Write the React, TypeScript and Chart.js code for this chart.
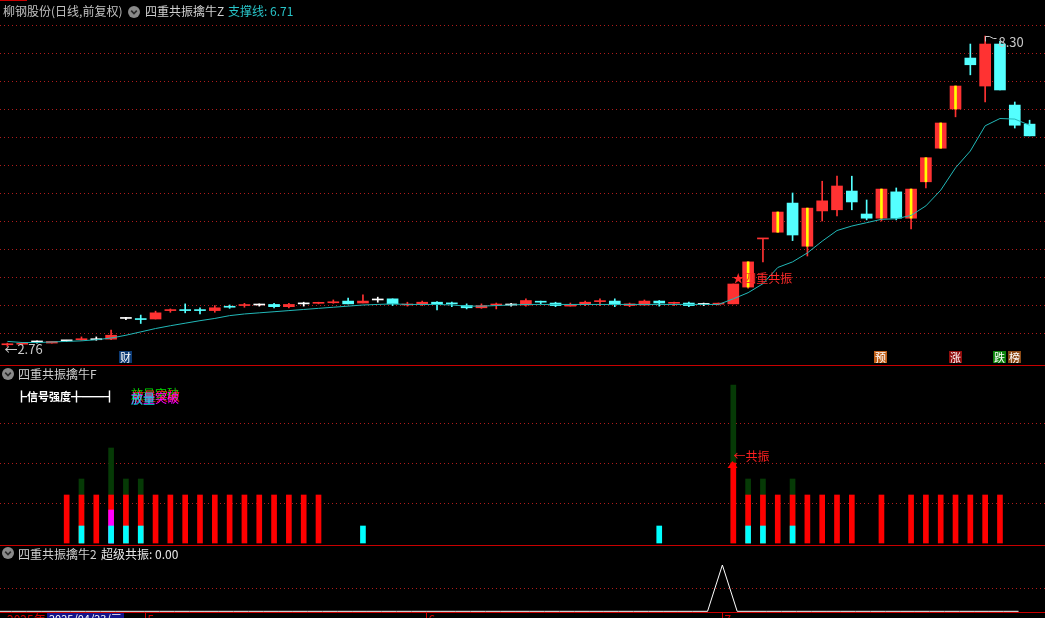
import React, { useEffect, useRef } from "react";
import { Chart, registerables } from "chart.js";
Chart.register(...registerables);

const FONT = '"Noto Sans CJK SC", "Noto Sans", sans-serif';
const _ = null;

// ---- trading dates (categories) ----
const aprDays = [17, 18, 21, 22, 23, 24, 25, 28, 29, 30];
const mayDays = [6, 7, 8, 9, 12, 13, 14, 15, 16, 19, 20, 21, 22, 23, 26, 27, 28, 29, 30];
const junDays = [3, 4, 5, 6, 9, 10, 11, 12, 13, 16, 17, 18, 19, 20, 23, 24, 25, 26, 27, 30];
const julDays = [1, 2, 3, 4, 7, 8, 9, 10, 11, 14, 15, 16, 17, 18, 21, 22, 23, 24, 25, 28, 29];
const pad2 = (n: number) => String(n).padStart(2, "0");
const categories = [
  ...aprDays.map((d) => `2025/04/${pad2(d)}`),
  ...mayDays.map((d) => `2025/05/${pad2(d)}`),
  ...junDays.map((d) => `2025/06/${pad2(d)}`),
  ...julDays.map((d) => `2025/07/${pad2(d)}`),
];

// ---- OHLC ----
const opens = [
  2.79, 2.8, 2.84, 2.82, 2.86, 2.88, 2.88, 2.89, 3.26, 3.25,
  3.25, 3.4, 3.41, 3.41, 3.4, 3.47, 3.49, 3.5, 3.51, 3.47,
  3.52, 3.53, 3.54, 3.57, 3.535, 3.59, 3.61, 3.5, 3.52, 3.55,
  3.53, 3.49, 3.45, 3.5, 3.5, 3.5, 3.56, 3.535, 3.48, 3.51,
  3.56, 3.57, 3.49, 3.5, 3.57, 3.53, 3.535, 3.51, 3.515, 3.52,
  3.82, 4.68, 4.8, 5.32, 4.55, 5.18, 5.2, 5.535, 5.125, 5.05,
  5.52, 5.05, 5.7, 6.3, 7.0, 7.91, 7.41, 8.16, 7.07, 6.73,
];
const highs = [
  2.82, 2.83, 2.86, 2.85, 2.87, 2.93, 2.93, 3.05, 3.28, 3.32,
  3.39, 3.43, 3.52, 3.45, 3.49, 3.5, 3.53, 3.52, 3.53, 3.53,
  3.55, 3.55, 3.59, 3.625, 3.68, 3.64, 3.61, 3.55, 3.57, 3.56,
  3.55, 3.52, 3.52, 3.535, 3.53, 3.61, 3.57, 3.55, 3.535, 3.57,
  3.61, 3.61, 3.535, 3.59, 3.58, 3.55, 3.55, 3.535, 3.535, 3.875,
  4.27, 4.69, 5.16, 5.5, 5.23, 5.71, 5.8, 5.8, 5.375, 5.57,
  5.59, 5.57, 6.13, 6.75, 7.41, 8.16, 8.3, 8.21, 7.125, 6.8,
];
const lows = [
  2.76, 2.79, 2.82, 2.82, 2.85, 2.87, 2.87, 2.88, 3.24, 3.17,
  3.25, 3.37, 3.36, 3.34, 3.37, 3.44, 3.46, 3.48, 3.45, 3.45,
  3.48, 3.52, 3.53, 3.52, 3.535, 3.55, 3.49, 3.48, 3.49, 3.41,
  3.47, 3.43, 3.44, 3.43, 3.48, 3.48, 3.52, 3.47, 3.48, 3.49,
  3.49, 3.47, 3.47, 3.495, 3.48, 3.49, 3.47, 3.49, 3.5, 3.52,
  3.8, 4.27, 4.8, 4.65, 4.375, 5.0, 5.09, 5.2, 5.02, 5.0,
  5.02, 4.86, 5.59, 6.3, 6.86, 7.61, 7.125, 7.34, 6.66, 6.52,
];
const closes = [
  2.8, 2.81, 2.84, 2.85, 2.86, 2.89, 2.88, 2.96, 3.26, 3.24,
  3.36, 3.41, 3.4, 3.4, 3.45, 3.46, 3.5, 3.5, 3.47, 3.51,
  3.52, 3.54, 3.55, 3.52, 3.57, 3.59, 3.52, 3.51, 3.55, 3.51,
  3.52, 3.45, 3.49, 3.51, 3.5, 3.58, 3.55, 3.49, 3.49, 3.55,
  3.57, 3.505, 3.52, 3.57, 3.535, 3.54, 3.49, 3.51, 3.525, 3.875,
  4.27, 4.69, 5.16, 4.75, 5.23, 5.36, 5.625, 5.34, 5.05, 5.57,
  5.05, 5.57, 6.13, 6.75, 7.41, 7.79, 8.16, 7.34, 6.71, 6.52,
];
// 支撑线
const supportLine = [
  2.85, 2.83, 2.83, 2.84, 2.85, 2.86, 2.88, 2.91, 2.96, 3.02,
  3.08, 3.13, 3.175, 3.22, 3.26, 3.31, 3.34, 3.36, 3.38, 3.4,
  3.42, 3.44, 3.46, 3.48, 3.5, 3.51, 3.52, 3.51, 3.51, 3.51,
  3.5, 3.48, 3.48, 3.49, 3.5, 3.51, 3.51, 3.51, 3.51, 3.51,
  3.51, 3.51, 3.51, 3.51, 3.51, 3.51, 3.51, 3.51, 3.51, 3.61,
  3.72, 3.88, 4.17, 4.27, 4.43, 4.64, 4.83, 4.91, 4.97, 5.03,
  5.04, 5.1, 5.27, 5.55, 5.95, 6.25, 6.7, 6.83, 6.82, 6.71,
];
const yellowLineIdx = [50, 52, 54, 59, 61, 62, 63, 64];
const signalIdx = 49;
const badgeIdx = [8, 59, 64, 67, 68];
const badgeText = ["财", "预", "涨", "跌", "榜"];
const badgeColor = ["#0c3a74", "#c0601a", "#900c0c", "#0c820c", "#8c4a16"];
const topGrid = [3.0, 3.5, 4.0, 4.5, 5.0, 5.5, 6.0, 6.5, 7.0, 7.5, 8.0, 8.5];

// ---- 四重共振擒牛F ----
const greenVals = [
  _, _, _, _, _, 32, _, 47.5, 32, 32,
  _, _, _, _, _, _, _, _, _, _,
  _, _, _, _, _, _, _, _, _, _,
  _, _, _, _, _, _, _, _, _, _,
  _, _, _, _, _, _, _, _, _, 79,
  32, 32, _, 32, _, _, _, _, _, _,
  _, _, _, _, _, _, _, _, _, _,
];
const redVals = [
  _, _, _, _, 24, 24, 24, 24, 24, 24,
  24, 24, 24, 24, 24, 24, 24, 24, 24, 24,
  24, 24, _, _, _, _, _, _, _, _,
  _, _, _, _, _, _, _, _, _, _,
  _, _, _, _, _, _, _, _, _, 40,
  24, 24, 24, 24, 24, 24, 24, 24, _, 24,
  _, 24, 24, 24, 24, 24, 24, 24, _, _,
];
const magentaVals = [
  _, _, _, _, _, _, _, 16.5, _, _,
  _, _, _, _, _, _, _, _, _, _,
  _, _, _, _, _, _, _, _, _, _,
  _, _, _, _, _, _, _, _, _, _,
  _, _, _, _, _, _, _, _, _, _,
  _, _, _, _, _, _, _, _, _, _,
  _, _, _, _, _, _, _, _, _, _,
];
const cyanVals = [
  _, _, _, _, _, 8.5, _, 8.5, 8.5, 8.5,
  _, _, _, _, _, _, _, _, _, _,
  _, _, _, _, 8.5, _, _, _, _, _,
  _, _, _, _, _, _, _, _, _, _,
  _, _, _, _, 8.5, _, _, _, _, _,
  8.5, 8.5, _, 8.5, _, _, _, _, _, _,
  _, _, _, _, _, _, _, _, _, _,
];
const midGrid = [20, 40, 60];

// ---- 四重共振擒牛2 ----
const superVals = [
  0, 0, 0, 0, 0, 0, 0, 0, 0, 0,
  0, 0, 0, 0, 0, 0, 0, 0, 0, 0,
  0, 0, 0, 0, 0, 0, 0, 0, 0, 0,
  0, 0, 0, 0, 0, 0, 0, 0, 0, 0,
  0, 0, 0, 0, 0, 0, 0, 0, 0, 1,
  0, 0, 0, 0, 0, 0, 0, 0, 0, 0,
  0, 0, 0, 0, 0, 0, 0, 0, 0, 0,
];
const botGrid = [0.5];
const monthStartIdx = [10, 29, 49];
const monthLabels = ["5", "6", "7"];

const RED = "#ff3232";
const CYAN = "#54ffff";
const WHITE = "#ffffff";
const YELLOW = "#ffff00";
const TEAL = "#22b8b8";
const GRID = "#b01c1c";
const SEP = "#c80000";

const candleColors = closes.map((c, i) => (c > opens[i] ? RED : c < opens[i] ? CYAN : WHITE));

function drawGrid(chart: any, values: number[]) {
  const { ctx, scales } = chart;
  ctx.save();
  ctx.strokeStyle = GRID;
  ctx.lineWidth = 1;
  ctx.setLineDash([1, 3]);
  values.forEach((v) => {
    const y = Math.round(scales.y.getPixelForValue(v)) + 0.5;
    ctx.beginPath();
    ctx.moveTo(0, y);
    ctx.lineTo(chart.width, y);
    ctx.stroke();
  });
  ctx.restore();
}

const baseOptions: any = {
  responsive: false,
  animation: false,
  devicePixelRatio: 1,
  events: [],
  plugins: { legend: { display: false }, tooltip: { enabled: false } },
};

function Icon({ left, top }: { left: number; top: number }) {
  return (
    <svg width={12} height={12} style={{ position: "absolute", left, top }}>
      <circle cx={6} cy={6} r={6} fill="#8a8a8a" />
      <polyline points="3.2,4.6 6,7.6 8.8,4.6" fill="none" stroke="#2a2a2a" strokeWidth={1.6} />
    </svg>
  );
}

function Txt({ left, top, color, children }: any) {
  return (
    <div
      style={{
        position: "absolute",
        left,
        top,
        color,
        fontFamily: FONT,
        fontSize: 12,
        lineHeight: "12px",
        whiteSpace: "pre",
      }}
    >
      {children}
    </div>
  );
}

export default function App() {
  const topRef = useRef<HTMLCanvasElement>(null);
  const midRef = useRef<HTMLCanvasElement>(null);
  const botRef = useRef<HTMLCanvasElement>(null);

  useEffect(() => {
    document.body.style.margin = "0";
    document.body.style.background = "#000";

    const topPlugin = {
      id: "topDecor",
      beforeDatasetsDraw(chart: any) {
        drawGrid(chart, topGrid);
      },
      afterDatasetsDraw(chart: any) {
        const { ctx, scales, chartArea } = chart;
        const px = (i: number) => scales.x.getPixelForValue(i);
        const py = (v: number) => scales.y.getPixelForValue(v);
        ctx.save();
        ctx.font = `13px ${FONT}`;
        ctx.textBaseline = "middle";
        ctx.textAlign = "left";
        // lowest low
        const lo = Math.min(...lows);
        const loI = lows.indexOf(lo);
        ctx.fillStyle = "#c8c8c8";
        ctx.fillText("←" + lo.toFixed(2), px(loI) - 3, py(lo) + 3);
        // highest high
        const hi = Math.max(...highs);
        const hiI = highs.indexOf(hi);
        const hx = Math.round(px(hiI)) + 0.5;
        const hy = Math.round(py(hi)) + 0.5;
        ctx.strokeStyle = "#c8c8c8";
        ctx.lineWidth = 1;
        ctx.beginPath();
        ctx.moveTo(hx, hy + 5);
        ctx.lineTo(hx, hy);
        ctx.lineTo(hx + 4, hy);
        ctx.moveTo(hx + 4, hy);
        ctx.lineTo(hx + 8, hy + 2);
        ctx.lineTo(hx + 11, hy + 2);
        ctx.stroke();
        ctx.fillText(hi.toFixed(2), hx + 13, hy + 6);
        // signal text
        ctx.font = `12px ${FONT}`;
        ctx.fillStyle = "#ff2a2a";
        ctx.fillText("★四重共振", px(signalIdx) - 1, py(highs[signalIdx]) - 6);
        // badges
        ctx.font = `11px ${FONT}`;
        ctx.textAlign = "center";
        badgeIdx.forEach((bi, k) => {
          const cx = Math.round(px(bi));
          const by = chartArea.bottom - 15;
          ctx.fillStyle = badgeColor[k];
          ctx.fillRect(cx - 7, by, 13, 12);
          ctx.fillStyle = "#ffffff";
          ctx.fillText(badgeText[k], cx - 0.5, by + 6.5);
        });
        ctx.restore();
      },
    };

    const top = new Chart(topRef.current as HTMLCanvasElement, {
      type: "bar",
      data: {
        labels: categories,
        datasets: [
          {
            type: "bar",
            data: lows.map((l, i) => [l, highs[i]]) as any,
            backgroundColor: candleColors,
            barThickness: 1,
            grouped: false,
            order: 4,
          } as any,
          {
            type: "bar",
            data: opens.map((o, i) => [o, closes[i]]) as any,
            backgroundColor: candleColors,
            barThickness: 11,
            minBarLength: 1,
            grouped: false,
            order: 3,
          } as any,
          {
            type: "bar",
            data: opens.map((o, i) => (yellowLineIdx.includes(i) ? [o, closes[i]] : null)) as any,
            backgroundColor: YELLOW,
            barThickness: 2,
            grouped: false,
            order: 2,
          } as any,
          {
            type: "line",
            data: supportLine,
            borderColor: TEAL,
            borderWidth: 1,
            pointRadius: 0,
            tension: 0,
            order: 1,
          } as any,
        ],
      },
      options: {
        ...baseOptions,
        layout: { padding: { left: 0, right: 8, top: 0, bottom: 0 } },
        scales: {
          x: { display: false, offset: true },
          y: { display: false, min: 2.4107, max: 8.9464 },
        },
      },
      plugins: [topPlugin],
    });

    const midPlugin = {
      id: "midDecor",
      beforeDatasetsDraw(chart: any) {
        drawGrid(chart, midGrid);
      },
      afterDatasetsDraw(chart: any) {
        const { ctx, scales } = chart;
        const px = (i: number) => scales.x.getPixelForValue(i);
        const py = (v: number) => scales.y.getPixelForValue(v);
        ctx.save();
        const bx = Math.round(px(signalIdx)) - 0.5;
        const bt = py(redVals[signalIdx] as number);
        ctx.fillStyle = "#ff0000";
        ctx.beginPath();
        ctx.moveTo(bx, bt - 2);
        ctx.lineTo(bx - 5, bt + 5);
        ctx.lineTo(bx + 5, bt + 5);
        ctx.closePath();
        ctx.fill();
        ctx.font = `12px ${FONT}`;
        ctx.textBaseline = "middle";
        ctx.fillStyle = "#ff2020";
        ctx.fillText("←共振", bx + 1, bt - 7);
        // overlapped legend texts
        ctx.fillStyle = "#ffffff";
        ctx.font = `bold 11px ${FONT}`;
        ctx.fillText("┣信号强度╋━━┫", 16, 31);
        ctx.font = `12px ${FONT}`;
        ctx.fillStyle = "#00e000";
        ctx.fillText("放量突破", 131, 28);
        ctx.fillStyle = "#ff2020";
        ctx.fillText("放量突破", 132, 30);
        ctx.fillStyle = "#ff00ff";
        ctx.fillText("放量突破", 131, 32);
        ctx.fillStyle = "#00e0e0";
        ctx.fillText("放量", 131, 33);
        ctx.restore();
      },
    };

    const mid = new Chart(midRef.current as HTMLCanvasElement, {
      type: "bar",
      data: {
        labels: categories,
        datasets: [
          { data: greenVals, backgroundColor: "#063a06", barThickness: 5, grouped: false, order: 4 } as any,
          { data: redVals, backgroundColor: "#ff0000", barThickness: 5, grouped: false, order: 3 } as any,
          { data: magentaVals, backgroundColor: "#ff00ff", barThickness: 5, grouped: false, order: 2 } as any,
          { data: cyanVals, backgroundColor: "#00ffff", barThickness: 5, grouped: false, order: 1 } as any,
        ],
      },
      options: {
        ...baseOptions,
        layout: { padding: { left: 0, right: 8, top: 0, bottom: 0 } },
        scales: {
          x: { display: false, offset: true },
          y: { display: false, min: -1.5, max: 88.5 },
        },
      },
      plugins: [midPlugin],
    });

    const botPlugin = {
      id: "botDecor",
      beforeDatasetsDraw(chart: any) {
        drawGrid(chart, botGrid);
      },
      afterDraw(chart: any) {
        const { ctx, scales, chartArea } = chart;
        const y0 = chartArea.bottom;
        ctx.save();
        ctx.font = `12px ${FONT}`;
        ctx.textBaseline = "top";
        ctx.fillStyle = "#d00000";
        ctx.fillText("2025年", 7, y0 + 1);
        ctx.fillStyle = "#14148a";
        ctx.fillRect(47, y0 + 1, 77, 6);
        ctx.fillStyle = "#ffffff";
        ctx.font = `11px ${FONT}`;
        ctx.fillText("2025/04/23/三", 49, y0 + 1);
        ctx.strokeStyle = "#d00000";
        ctx.fillStyle = "#d00000";
        ctx.font = `12px ${FONT}`;
        monthStartIdx.forEach((mi, k) => {
          const x = Math.round(scales.x.getPixelForValue(mi)) + 0.5;
          ctx.beginPath();
          ctx.moveTo(x, y0);
          ctx.lineTo(x, y0 + 6);
          ctx.stroke();
          ctx.fillText(monthLabels[k], x + 2, y0 + 1);
        });
        ctx.restore();
      },
    };

    const bot = new Chart(botRef.current as HTMLCanvasElement, {
      type: "line",
      data: {
        datasets: [
          {
            data: superVals.map((v, i) => ({ x: i, y: v })),
            borderColor: "#ffffff",
            borderWidth: 1,
            pointRadius: 0,
            tension: 0,
          } as any,
        ],
      },
      options: {
        ...baseOptions,
        layout: { padding: { left: 0, right: 8, top: 0, bottom: 6 } },
        scales: {
          x: { type: "linear", display: false, min: 0.223, max: 70.245 },
          y: { display: false, min: -0.0151, max: 1.4104 },
        },
      },
      plugins: [botPlugin],
    });

    return () => {
      top.destroy();
      mid.destroy();
      bot.destroy();
    };
  }, []);

  const sep = (y: number) => (
    <div style={{ position: "absolute", left: 0, top: y, width: 1045, height: 1, background: SEP }} />
  );

  return (
    <div
      style={{
        position: "fixed",
        left: 0,
        top: 0,
        width: 1045,
        height: 618,
        background: "#000",
        overflow: "hidden",
      }}
    >
      <canvas ref={topRef} width={1045} height={366} style={{ position: "absolute", left: 0, top: 0, width: 1045, height: 366 }} />
      <canvas ref={midRef} width={1045} height={180} style={{ position: "absolute", left: 0, top: 366, width: 1045, height: 180 }} />
      <canvas ref={botRef} width={1045} height={72} style={{ position: "absolute", left: 0, top: 546, width: 1045, height: 72 }} />
      <div style={{ position: "absolute", left: 0, top: 0, width: 27, height: 1, background: SEP }} />
      {sep(365)}
      {sep(545)}
      {sep(612)}
      <Txt left={3} top={5} color="#c0c0c0">柳钢股份(日线,前复权)</Txt>
      <Icon left={128} top={6} />
      <Txt left={145} top={5} color="#cfcfcf">四重共振擒牛Z</Txt>
      <Txt left={228} top={5} color="#28c4c8">{`支撑线: ${supportLine[supportLine.length - 1].toFixed(2)}`}</Txt>
      <Icon left={2} top={368} />
      <Txt left={18} top={368} color="#cfcfcf">四重共振擒牛F</Txt>
      <Icon left={2} top={547} />
      <Txt left={18} top={548} color="#cfcfcf">四重共振擒牛2</Txt>
      <Txt left={101} top={548} color="#e8e8e8">{`超级共振: ${superVals[superVals.length - 1].toFixed(2)}`}</Txt>
    </div>
  );
}
